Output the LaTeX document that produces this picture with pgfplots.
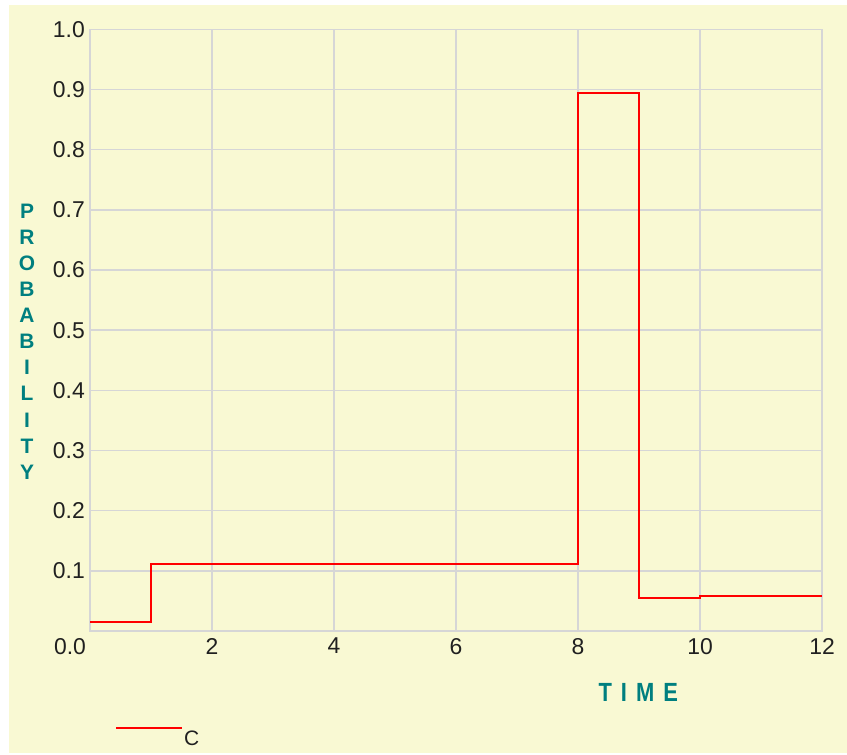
\documentclass[border=0pt]{standalone}
\usepackage{fontspec}
\setmainfont{Liberation Sans}
\usepackage{pgfplots}
\pgfplotsset{compat=1.18}
\definecolor{panel}{HTML}{F9F9D3}
\definecolor{gridgray}{HTML}{D6D6D6}
\definecolor{labteal}{HTML}{007F7F}
\definecolor{tickdark}{HTML}{202020}
\begin{document}
\begin{tikzpicture}
% page and panel
\fill[white] (-90bp,-124bp) rectangle (757bp,631bp);
\fill[panel] (-81bp,-122bp) rectangle (757bp,626bp);
\begin{axis}[
  at={(0,0)}, anchor=south west,
  scale only axis,
  width=732bp, height=601.7bp,
  xmin=0, xmax=12, ymin=0, ymax=1,
  xtick={2,4,6,8,10,12},
  xticklabels={2,4,6,8,10,12},
  extra x ticks={0},
  extra x tick labels={0.0},
  extra x tick style={xticklabel style={xshift=-20bp}},
  ytick={0,0.1,0.2,0.3,0.4,0.5,0.6,0.7,0.8,0.9,1.0},
  yticklabels={,0.1,0.2,0.3,0.4,0.5,0.6,0.7,0.8,0.9,1.0},
  grid=major,
  major grid style={draw=gridgray, line width=1.5bp},
  axis line style={draw=gridgray, line width=1.5bp},
  major tick length=0pt,
  tick style={draw=none},
  ticklabel style={font=\fontsize{23}{23}\selectfont, text=tickdark},
  xticklabel style={anchor=north, inner sep=0pt, yshift=-7bp},
  yticklabel style={anchor=east, inner sep=0pt, xshift=-5bp},
  xlabel={\scalebox{1}[1.2]{T\hspace{9bp}I\hspace{9bp}M\hspace{9bp}E}},
  xlabel style={font=\fontsize{22}{22}\selectfont\bfseries, text=labteal,
    at={(axis description cs:0.749,-0.1015)}, anchor=center, inner sep=0pt},
  ylabel={P\\R\\O\\B\\A\\B\\I\\L\\I\\T\\Y},
  ylabel style={rotate=-90, font=\fontsize{21}{26.2}\selectfont\bfseries, text=labteal,
    align=center, at={(axis description cs:-0.086,0.481)}, anchor=center, inner sep=0pt},
  legend style={at={(axis description cs:0.034,-0.16)}, anchor=north west,
    draw=none, fill=none, inner sep=0pt,
    nodes={inner sep=1bp, font=\fontsize{21}{21}\selectfont, text=tickdark}},
  legend image code/.code={\draw[#1] (0bp,10bp) -- (66bp,10bp);},
]
\addplot[const plot, red, line width=2bp, no marks] coordinates {
  (0,0.015) (1,0.112) (8,0.894) (9,0.0555) (10,0.059) (12,0.059)
};
\addlegendentry{C}
\end{axis}
\pgfresetboundingbox
\path[use as bounding box] (-90bp,-124bp) rectangle (757bp,631bp);
\end{tikzpicture}
\end{document}
